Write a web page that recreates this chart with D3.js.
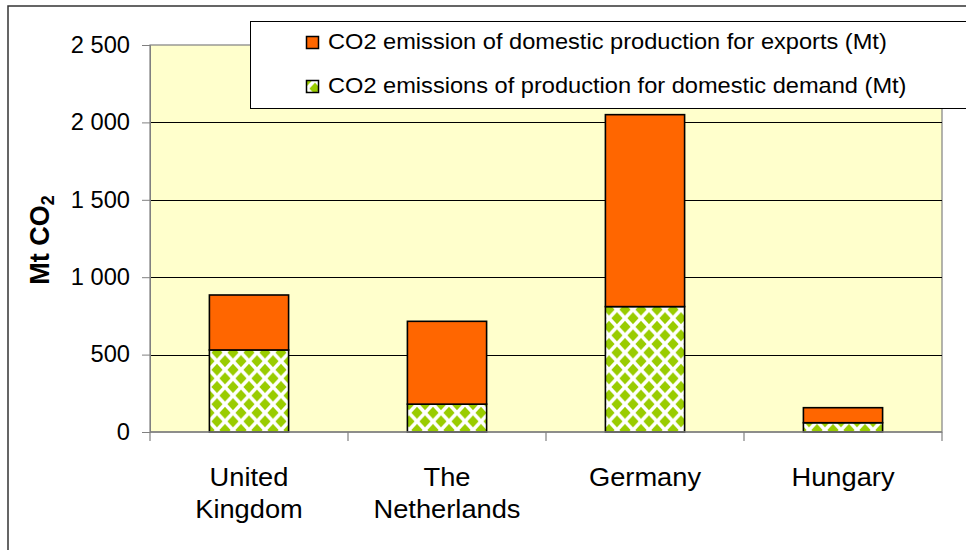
<!DOCTYPE html>
<html>
<head>
<meta charset="utf-8">
<script src="https://cdn.jsdelivr.net/npm/d3@7/dist/d3.min.js"></script>
<style>
  html, body { margin: 0; padding: 0; background: #fff; }
  svg { display: block; font-family: "Liberation Sans", Arial, Helvetica, sans-serif; }
</style>
</head>
<body>
<svg id="chart" width="966" height="550"></svg>
<script>
// ---- data ----
const categories = ["United Kingdom", "The Netherlands", "Germany", "Hungary"];
const domesticDemand = [530, 180, 810, 60];      // CO2 emissions of production for domestic demand (Mt)
const exportsProd = [355, 535, 1240, 97];        // CO2 emission of domestic production for exports (Mt)
const yTicks = [0, 500, 1000, 1500, 2000, 2500];
const seriesNames = [
  "CO2 emission of domestic production for exports (Mt)",
  "CO2 emissions of production for domestic demand (Mt)"
];
const yTitle = "Mt CO";
const yTitleSub = "2";

// ---- setup ----
const svg = d3.select("#chart");
const plot = { left: 150, right: 942, top: 45, bottom: 432 };
const SX = 1.07; // horizontal stretch of the reference text

const fmt = d3.formatLocale({ decimal: ",", thousands: "\u00a0", grouping: [3], currency: ["", ""] }).format(",d");

const x = d3.scaleBand().domain(categories).range([plot.left, plot.right])
  .paddingInner(0.6).paddingOuter(0.3);
const y = d3.scaleLinear().domain([0, 2500]).range([plot.bottom, plot.top]);

// pattern
const defs = svg.append("defs");
const PW = 16, PH = 17.2;
const pat = defs.append("pattern").attr("id", "diam").attr("patternUnits", "userSpaceOnUse")
  .attr("width", PW).attr("height", PH).attr("x", 1).attr("y", 0);
pat.append("rect").attr("width", PW).attr("height", PH).attr("fill", "#ffffff");
[[0, 0], [PW, 0], [0, PH], [PW, PH], [PW / 2, PH / 2]].forEach(([cx, cy]) => {
  pat.append("path").attr("fill", "#99CC00")
    .attr("d", `M${cx},${cy - 5.9}L${cx + 5.6},${cy}L${cx},${cy + 5.9}L${cx - 5.6},${cy}Z`);
});

// outer frame
svg.append("rect").attr("x", 8).attr("y", 6).attr("width", 1000).attr("height", 600)
  .attr("fill", "#ffffff").attr("stroke", "#333333").attr("stroke-width", 1.5);

// plot area
svg.append("rect").attr("x", plot.left).attr("y", plot.top)
  .attr("width", plot.right - plot.left).attr("height", plot.bottom - plot.top)
  .attr("fill", "#FFFFCC").attr("stroke", "#808080").attr("stroke-width", 1.2);

// gridlines
svg.append("g").selectAll("line").data(yTicks.filter(d => d > 0 && d < 2500)).join("line")
  .attr("x1", plot.left).attr("x2", plot.right)
  .attr("y1", d => Math.round(y(d)) + 0.5).attr("y2", d => Math.round(y(d)) + 0.5)
  .attr("stroke", "#000").attr("stroke-width", 1);

// y axis
const yAxis = d3.axisLeft(y).tickValues(yTicks).tickSize(8).tickPadding(12).tickFormat(fmt);
const gy = svg.append("g").attr("transform", `translate(${plot.left},0)`).call(yAxis);
gy.select(".domain").attr("stroke", "#808080");
gy.selectAll(".tick line").attr("stroke", "#808080");
gy.selectAll(".tick text").attr("font-size", 23).attr("fill", "#000")
  .attr("font-family", "'Liberation Sans', Arial, sans-serif")
  .attr("transform", "translate(-20,0) scale(1.03,1) translate(20,0)");

// stacked bars
const stackData = categories.map((c, i) => ({ cat: c, dom: domesticDemand[i], exp: exportsProd[i] }));
const bars = svg.append("g");
bars.selectAll("rect.dom").data(stackData).join("rect").attr("class", "dom")
  .attr("x", d => x(d.cat)).attr("width", x.bandwidth())
  .attr("y", d => y(d.dom)).attr("height", d => y(0) - y(d.dom))
  .attr("fill", "url(#diam)").attr("stroke", "#000").attr("stroke-width", 1.6);
bars.selectAll("rect.exp").data(stackData).join("rect").attr("class", "exp")
  .attr("x", d => x(d.cat)).attr("width", x.bandwidth())
  .attr("y", d => y(d.dom + d.exp)).attr("height", d => y(d.dom) - y(d.dom + d.exp))
  .attr("fill", "#FF6600").attr("stroke", "#000").attr("stroke-width", 1.6);

// x axis
const step = x.step();
const xb = svg.append("g");
xb.append("line").attr("x1", plot.left).attr("x2", plot.right)
  .attr("y1", plot.bottom).attr("y2", plot.bottom).attr("stroke", "#808080").attr("stroke-width", 1.5);
const bounds = d3.range(categories.length + 1).map(i => plot.left + i * step);
xb.selectAll("line.t").data(bounds).join("line").attr("class", "t")
  .attr("x1", d => d).attr("x2", d => d).attr("y1", plot.bottom).attr("y2", plot.bottom + 9)
  .attr("stroke", "#808080").attr("stroke-width", 1.2);
const labG = xb.selectAll("g.cat").data(categories).join("g").attr("class", "cat")
  .attr("transform", d => `translate(${x(d) + x.bandwidth() / 2},486) scale(${SX},1)`);
labG.each(function (d) {
  const t = d3.select(this).append("text").attr("text-anchor", "middle")
    .attr("font-size", 25.5).attr("fill", "#000");
  d.split(" ").forEach((w, i) => t.append("tspan").attr("x", 0).attr("y", i * 32).text(w));
});

// y title
const yt = svg.append("text").attr("transform", `translate(49,240) rotate(-90)`)
  .attr("text-anchor", "middle").attr("font-size", 27).attr("font-weight", "bold").attr("fill", "#000");
yt.append("tspan").text(yTitle);
yt.append("tspan").attr("font-size", 18).attr("dy", 5).text(yTitleSub);

// legend
const lg = svg.append("g");
lg.append("rect").attr("x", 250.5).attr("y", 21.5).attr("width", 730).attr("height", 87)
  .attr("fill", "#fff").attr("stroke", "#000").attr("stroke-width", 1);
const legFills = ["#FF6600", "url(#diam)"];
const legItems = lg.selectAll("g.item").data(seriesNames).join("g").attr("class", "item")
  .attr("transform", (d, i) => `translate(306,${36 + i * 44})`);
legItems.append("rect").attr("x", 0.5).attr("y", 0.5).attr("width", 12).attr("height", 12)
  .attr("fill", (d, i) => legFills[i]).attr("stroke", "#000").attr("stroke-width", 1.5);
legItems.append("g").attr("transform", `translate(22,12.5) scale(1.05,1)`)
  .append("text").attr("x", 0).attr("y", 0).attr("font-size", 22.5).attr("fill", "#000")
  .text(d => d);
</script>
</body>
</html>
